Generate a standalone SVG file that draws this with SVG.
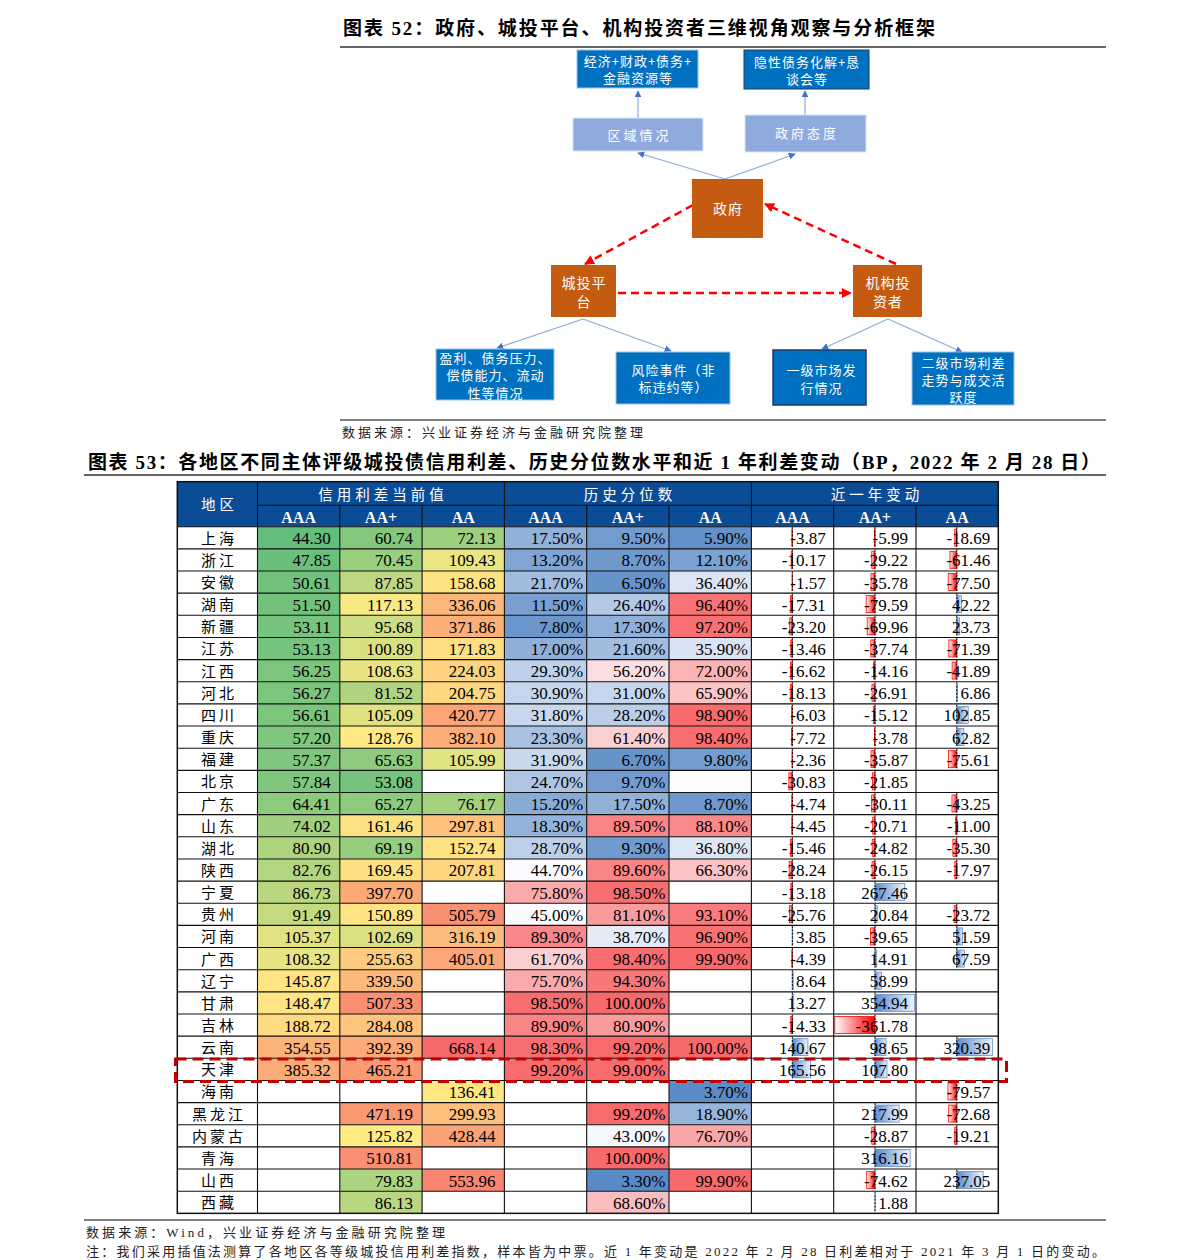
<svg xmlns="http://www.w3.org/2000/svg" width="1191" height="1260" viewBox="0 0 1191 1260">
<style>
.t{font-family:"Liberation Serif","Noto Sans CJK SC",serif;font-weight:bold;font-size:19px;fill:#000}
.src{font-family:"Liberation Serif","Noto Sans CJK SC",serif;font-size:13px;fill:#222}
.w{font-family:"Noto Sans CJK SC",sans-serif;fill:#fff;text-anchor:middle;font-size:13px;letter-spacing:1px}
.ws{font-family:"Noto Sans CJK SC",sans-serif;fill:#fff;text-anchor:middle;font-size:13px;letter-spacing:3px}
.wb{font-family:"Noto Sans CJK SC",sans-serif;fill:#fff;text-anchor:middle;font-size:14px;letter-spacing:1px}
.db{fill:#0070C0}
.lb{fill:#8FAADC}
.or{fill:#C55A11}
.bl{stroke:#8FAADC;stroke-width:1.2;fill:none}
.rd{stroke:#FF0000;stroke-width:2.5;stroke-dasharray:8 5;fill:none}
.n{font-family:"Liberation Serif",serif;font-size:17px;fill:#000;text-anchor:end}
.r{font-family:"Noto Sans CJK SC",sans-serif;font-size:15px;fill:#000;text-anchor:middle;letter-spacing:3px}
.hd{font-family:"Noto Sans CJK SC",sans-serif;font-size:14.5px;fill:#fff;text-anchor:middle;letter-spacing:4px}
.hs{font-family:"Liberation Serif",serif;font-weight:bold;font-size:16px;fill:#fff;text-anchor:middle}
.ax{stroke:#000;stroke-width:1;stroke-dasharray:2 1.5}
.bn{fill:url(#gneg);stroke:#FF0000;stroke-width:0.8}
.bp{fill:url(#gpos);stroke:#638EC6;stroke-width:0.8}
.g{stroke:#111;stroke-width:1.1;fill:none}
</style>
<defs>
<linearGradient id="gneg" x1="0" y1="0" x2="1" y2="0"><stop offset="0" stop-color="#FFFFFF"/><stop offset="1" stop-color="#FF0000"/></linearGradient>
<linearGradient id="gpos" x1="0" y1="0" x2="1" y2="0"><stop offset="0" stop-color="#5B8BCF"/><stop offset="1" stop-color="#EEF3FA"/></linearGradient>
<marker id="ab" viewBox="0 0 10 10" refX="9" refY="5" markerWidth="7" markerHeight="7" markerUnits="userSpaceOnUse" orient="auto"><path d="M0,0 L10,5 L0,10 z" fill="#4472C4"/></marker>
<marker id="ar" viewBox="0 0 10 10" refX="9" refY="5" markerWidth="10" markerHeight="10" markerUnits="userSpaceOnUse" orient="auto"><path d="M0,0 L10,5 L0,10 z" fill="#FF0000"/></marker>
</defs>
<rect width="1191" height="1260" fill="#fff"/>

<!-- Figure 52 -->
<text class="t" x="343" y="35" textLength="592" lengthAdjust="spacing">图表 52：政府、城投平台、机构投资者三维视角观察与分析框架</text>
<line x1="340" y1="47" x2="1106" y2="47" stroke="#333" stroke-width="1.5"/>

<g id="connectors">
<path class="bl" d="M638,118 L638,91" marker-end="url(#ab)"/>
<path class="bl" d="M805,115 L805,91" marker-end="url(#ab)"/>
<path class="bl" d="M725,179 L638,153" marker-end="url(#ab)"/>
<path class="bl" d="M725,179 L795,154" marker-end="url(#ab)"/>
<path class="bl" d="M583,319 L497,348" marker-end="url(#ab)"/>
<path class="bl" d="M583,319 L671,351" marker-end="url(#ab)"/>
<path class="bl" d="M888,319 L822,349" marker-end="url(#ab)"/>
<path class="bl" d="M888,319 L962,352" marker-end="url(#ab)"/>
<path class="rd" d="M693,205 L585,264" marker-end="url(#ar)"/>
<path class="rd" d="M896,264 L765,204" marker-end="url(#ar)"/>
<path class="rd" d="M618,293 L851,293" marker-end="url(#ar)"/>
</g>

<g id="n-econ"><rect class="db" x="577" y="50" width="121" height="38" stroke="#9DC3E6" stroke-width="1"/><text class="w" x="638" y="66">经济+财政+债务+</text><text class="w" x="638" y="83">金融资源等</text></g>
<g id="n-debt"><rect class="db" x="744" y="50" width="125" height="39" stroke="#1F3864" stroke-width="1"/><text class="w" x="807" y="67">隐性债务化解+恳</text><text class="w" x="807" y="84">谈会等</text></g>
<g id="n-region"><rect class="lb" x="573" y="118" width="130" height="33" stroke="#DAE3F3" stroke-width="1"/><text class="ws" x="639.5" y="139.5">区域情况</text></g>
<g id="n-attitude"><rect class="lb" x="745" y="115" width="121" height="37" stroke="#DAE3F3" stroke-width="1"/><text class="ws" x="807" y="138">政府态度</text></g>
<g id="n-gov"><rect class="or" x="692" y="179" width="71" height="59"/><text class="wb" x="728" y="214">政府</text></g>
<g id="n-lgfv"><rect class="or" x="551" y="265" width="65" height="52"/><text class="wb" x="584" y="288">城投平</text><text class="wb" x="584" y="307">台</text></g>
<g id="n-inst"><rect class="or" x="853" y="265" width="69" height="52"/><text class="wb" x="888" y="288">机构投</text><text class="wb" x="888" y="307">资者</text></g>
<g id="n-profit"><rect class="db" x="436" y="349" width="118" height="51" stroke="#9DC3E6" stroke-width="1"/><text class="w" x="495.5" y="362.5">盈利、债务压力、</text><text class="w" x="495.5" y="380">偿债能力、流动</text><text class="w" x="495.5" y="397.5">性等情况</text></g>
<g id="n-risk"><rect class="db" x="616" y="352" width="114" height="52" stroke="#9DC3E6" stroke-width="1"/><text class="w" x="673.5" y="374.5">风险事件（非</text><text class="w" x="673.5" y="391.5">标违约等）</text></g>
<g id="n-primary"><rect class="db" x="773" y="350" width="93" height="55" stroke="#1F3864" stroke-width="1.5"/><text class="w" x="821.5" y="374.5">一级市场发</text><text class="w" x="821.5" y="392.5">行情况</text></g>
<g id="n-secondary"><rect class="db" x="912" y="352" width="102" height="53" stroke="#9DC3E6" stroke-width="1"/><text class="w" x="963.5" y="367.5">二级市场利差</text><text class="w" x="963.5" y="384.5">走势与成交活</text><text class="w" x="963.5" y="401.5">跃度</text></g>

<line x1="340" y1="420" x2="1106" y2="420" stroke="#555" stroke-width="1.5"/>
<text class="src" x="342" y="437" textLength="301" lengthAdjust="spacing">数据来源：兴业证券经济与金融研究院整理</text>

<!-- Figure 53 -->
<text class="t" x="88" y="469" textLength="1012" lengthAdjust="spacing">图表 53：各地区不同主体评级城投债信用利差、历史分位数水平和近 1 年利差变动（BP，2022 年 2 月 28 日）</text>
<line x1="84" y1="475" x2="1106" y2="475" stroke="#333" stroke-width="1.5"/>

<g id="header">
<rect x="177.3" y="481.7" width="821" height="45" fill="#0B4C96"/>
<text class="hd" x="219.4" y="510">地区</text>
<text class="hd" x="383" y="499.5">信用利差当前值</text>
<text class="hd" x="629.9" y="499.5">历史分位数</text>
<text class="hd" x="876.9" y="499.5">近一年变动</text>
<text class="hs" x="298.65" y="522.5">AAA</text><text class="hs" x="380.95" y="522.5">AA+</text><text class="hs" x="463.25" y="522.5">AA</text>
<text class="hs" x="545.55" y="522.5">AAA</text><text class="hs" x="627.85" y="522.5">AA+</text><text class="hs" x="710.2" y="522.5">AA</text>
<text class="hs" x="792.55" y="522.5">AAA</text><text class="hs" x="874.85" y="522.5">AA+</text><text class="hs" x="957.15" y="522.5">AA</text>
<path class="g" d="M257.5,505.2 H998.3 M257.5,481.7 V526.7 M504.4,481.7 V526.7 M751.4,481.7 V526.7 M339.8,505.2 V526.7 M422.1,505.2 V526.7 M586.7,505.2 V526.7 M669,505.2 V526.7 M833.7,505.2 V526.7 M916,505.2 V526.7"/>
</g>

<g id="r01" transform="translate(0,526.7)">
<rect x="257.5" width="82.31" height="22.15" fill="#63BE7B"/><rect x="339.8" width="82.31" height="22.15" fill="#85C87D"/><rect x="422.1" width="82.31" height="22.15" fill="#9CCF7E"/>
<rect x="504.4" width="82.31" height="22.15" fill="#91B1D9"/><rect x="586.7" width="82.31" height="22.15" fill="#729BCE"/><rect x="669" width="82.31" height="22.15" fill="#6491CA"/>
<rect class="bn" x="791.87" y="2.5" width="0.43" height="17"/><rect class="bn" x="874.34" y="2.5" width="0.66" height="17"/><rect class="bn" x="954.73" y="2.5" width="2.07" height="17"/>
<line class="ax" x1="792.3" x2="792.3" y1="0.5" y2="21.65"/><line class="ax" x1="875" x2="875" y1="0.5" y2="21.65"/><line class="ax" x1="956.8" x2="956.8" y1="0.5" y2="21.65"/>
<text class="r" x="218.9" y="17">上海</text>
<text class="n" x="330.8" y="17.5">44.30</text><text class="n" x="413.1" y="17.5">60.74</text><text class="n" x="495.4" y="17.5">72.13</text>
<text class="n" x="583.2" y="17.5">17.50%</text><text class="n" x="665.5" y="17.5">9.50%</text><text class="n" x="747.9" y="17.5">5.90%</text>
<text class="n" x="825.7" y="17.5">-3.87</text><text class="n" x="908" y="17.5">-5.99</text><text class="n" x="990.3" y="17.5">-18.69</text>
</g>

<g id="r02" transform="translate(0,548.85)">
<rect x="257.5" width="82.31" height="22.15" fill="#6AC07B"/><rect x="339.8" width="82.31" height="22.15" fill="#99CE7E"/><rect x="422.1" width="82.31" height="22.15" fill="#E9E583"/>
<rect x="504.4" width="82.31" height="22.15" fill="#80A5D4"/><rect x="586.7" width="82.31" height="22.15" fill="#6F99CD"/><rect x="669" width="82.31" height="22.15" fill="#7CA2D2"/>
<rect class="bn" x="791.17" y="2.5" width="1.13" height="17"/><rect class="bn" x="871.76" y="2.5" width="3.24" height="17"/><rect class="bn" x="949.98" y="2.5" width="6.82" height="17"/>
<line class="ax" x1="792.3" x2="792.3" y1="0.5" y2="21.65"/><line class="ax" x1="875" x2="875" y1="0.5" y2="21.65"/><line class="ax" x1="956.8" x2="956.8" y1="0.5" y2="21.65"/>
<text class="r" x="218.9" y="17">浙江</text>
<text class="n" x="330.8" y="17.5">47.85</text><text class="n" x="413.1" y="17.5">70.45</text><text class="n" x="495.4" y="17.5">109.43</text>
<text class="n" x="583.2" y="17.5">13.20%</text><text class="n" x="665.5" y="17.5">8.70%</text><text class="n" x="747.9" y="17.5">12.10%</text>
<text class="n" x="825.7" y="17.5">-10.17</text><text class="n" x="908" y="17.5">-29.22</text><text class="n" x="990.3" y="17.5">-61.46</text>
</g>

<g id="r03" transform="translate(0,571)">
<rect x="257.5" width="82.31" height="22.15" fill="#70C27C"/><rect x="339.8" width="82.31" height="22.15" fill="#BDD880"/><rect x="422.1" width="82.31" height="22.15" fill="#FFE282"/>
<rect x="504.4" width="82.31" height="22.15" fill="#A1BCDF"/><rect x="586.7" width="82.31" height="22.15" fill="#6693CA"/><rect x="669" width="82.31" height="22.15" fill="#DBE4F3"/>
<rect class="bn" x="792.13" y="2.5" width="0.17" height="17"/><rect class="bn" x="871.03" y="2.5" width="3.97" height="17"/><rect class="bn" x="948.2" y="2.5" width="8.6" height="17"/>
<line class="ax" x1="792.3" x2="792.3" y1="0.5" y2="21.65"/><line class="ax" x1="875" x2="875" y1="0.5" y2="21.65"/><line class="ax" x1="956.8" x2="956.8" y1="0.5" y2="21.65"/>
<text class="r" x="218.9" y="17">安徽</text>
<text class="n" x="330.8" y="17.5">50.61</text><text class="n" x="413.1" y="17.5">87.85</text><text class="n" x="495.4" y="17.5">158.68</text>
<text class="n" x="583.2" y="17.5">21.70%</text><text class="n" x="665.5" y="17.5">6.50%</text><text class="n" x="747.9" y="17.5">36.40%</text>
<text class="n" x="825.7" y="17.5">-1.57</text><text class="n" x="908" y="17.5">-35.78</text><text class="n" x="990.3" y="17.5">-77.50</text>
</g>

<g id="r04" transform="translate(0,593.15)">
<rect x="257.5" width="82.31" height="22.15" fill="#72C27C"/><rect x="339.8" width="82.31" height="22.15" fill="#F9E984"/><rect x="422.1" width="82.31" height="22.15" fill="#FCB87A"/>
<rect x="504.4" width="82.31" height="22.15" fill="#7AA0D1"/><rect x="586.7" width="82.31" height="22.15" fill="#B4C9E6"/><rect x="669" width="82.31" height="22.15" fill="#F87375"/>
<rect class="bn" x="790.38" y="2.5" width="1.92" height="17"/><rect class="bn" x="866.17" y="2.5" width="8.83" height="17"/><rect class="bp" x="956.8" y="2.5" width="4.69" height="17"/>
<line class="ax" x1="792.3" x2="792.3" y1="0.5" y2="21.65"/><line class="ax" x1="875" x2="875" y1="0.5" y2="21.65"/><line class="ax" x1="956.8" x2="956.8" y1="0.5" y2="21.65"/>
<text class="r" x="218.9" y="17">湖南</text>
<text class="n" x="330.8" y="17.5">51.50</text><text class="n" x="413.1" y="17.5">117.13</text><text class="n" x="495.4" y="17.5">336.06</text>
<text class="n" x="583.2" y="17.5">11.50%</text><text class="n" x="665.5" y="17.5">26.40%</text><text class="n" x="747.9" y="17.5">96.40%</text>
<text class="n" x="825.7" y="17.5">-17.31</text><text class="n" x="908" y="17.5">-79.59</text><text class="n" x="990.3" y="17.5">42.22</text>
</g>

<g id="r05" transform="translate(0,615.3)">
<rect x="257.5" width="82.31" height="22.15" fill="#75C37C"/><rect x="339.8" width="82.31" height="22.15" fill="#CDDD81"/><rect x="422.1" width="82.31" height="22.15" fill="#FCAF79"/>
<rect x="504.4" width="82.31" height="22.15" fill="#6B96CC"/><rect x="586.7" width="82.31" height="22.15" fill="#90B0D9"/><rect x="669" width="82.31" height="22.15" fill="#F87072"/>
<rect class="bn" x="789.72" y="2.5" width="2.58" height="17"/><rect class="bn" x="867.23" y="2.5" width="7.77" height="17"/><rect class="bp" x="956.8" y="2.5" width="2.63" height="17"/>
<line class="ax" x1="792.3" x2="792.3" y1="0.5" y2="21.65"/><line class="ax" x1="875" x2="875" y1="0.5" y2="21.65"/><line class="ax" x1="956.8" x2="956.8" y1="0.5" y2="21.65"/>
<text class="r" x="218.9" y="17">新疆</text>
<text class="n" x="330.8" y="17.5">53.11</text><text class="n" x="413.1" y="17.5">95.68</text><text class="n" x="495.4" y="17.5">371.86</text>
<text class="n" x="583.2" y="17.5">7.80%</text><text class="n" x="665.5" y="17.5">17.30%</text><text class="n" x="747.9" y="17.5">97.20%</text>
<text class="n" x="825.7" y="17.5">-23.20</text><text class="n" x="908" y="17.5">-69.96</text><text class="n" x="990.3" y="17.5">23.73</text>
</g>

<g id="r06" transform="translate(0,637.45)">
<rect x="257.5" width="82.31" height="22.15" fill="#75C37C"/><rect x="339.8" width="82.31" height="22.15" fill="#D8E082"/><rect x="422.1" width="82.31" height="22.15" fill="#FEDF82"/>
<rect x="504.4" width="82.31" height="22.15" fill="#8FAFD9"/><rect x="586.7" width="82.31" height="22.15" fill="#A1BCDF"/><rect x="669" width="82.31" height="22.15" fill="#D9E3F3"/>
<rect class="bn" x="790.81" y="2.5" width="1.49" height="17"/><rect class="bn" x="870.81" y="2.5" width="4.19" height="17"/><rect class="bn" x="948.88" y="2.5" width="7.92" height="17"/>
<line class="ax" x1="792.3" x2="792.3" y1="0.5" y2="21.65"/><line class="ax" x1="875" x2="875" y1="0.5" y2="21.65"/><line class="ax" x1="956.8" x2="956.8" y1="0.5" y2="21.65"/>
<text class="r" x="218.9" y="17">江苏</text>
<text class="n" x="330.8" y="17.5">53.13</text><text class="n" x="413.1" y="17.5">100.89</text><text class="n" x="495.4" y="17.5">171.83</text>
<text class="n" x="583.2" y="17.5">17.00%</text><text class="n" x="665.5" y="17.5">21.60%</text><text class="n" x="747.9" y="17.5">35.90%</text>
<text class="n" x="825.7" y="17.5">-13.46</text><text class="n" x="908" y="17.5">-37.74</text><text class="n" x="990.3" y="17.5">-71.39</text>
</g>

<g id="r07" transform="translate(0,659.6)">
<rect x="257.5" width="82.31" height="22.15" fill="#7CC57C"/><rect x="339.8" width="82.31" height="22.15" fill="#E8E483"/><rect x="422.1" width="82.31" height="22.15" fill="#FED27F"/>
<rect x="504.4" width="82.31" height="22.15" fill="#BFD1EA"/><rect x="586.7" width="82.31" height="22.15" fill="#FBDEE1"/><rect x="669" width="82.31" height="22.15" fill="#FAB4B6"/>
<rect class="bn" x="790.46" y="2.5" width="1.84" height="17"/><rect class="bn" x="873.43" y="2.5" width="1.57" height="17"/><rect class="bn" x="952.15" y="2.5" width="4.65" height="17"/>
<line class="ax" x1="792.3" x2="792.3" y1="0.5" y2="21.65"/><line class="ax" x1="875" x2="875" y1="0.5" y2="21.65"/><line class="ax" x1="956.8" x2="956.8" y1="0.5" y2="21.65"/>
<text class="r" x="218.9" y="17">江西</text>
<text class="n" x="330.8" y="17.5">56.25</text><text class="n" x="413.1" y="17.5">108.63</text><text class="n" x="495.4" y="17.5">224.03</text>
<text class="n" x="583.2" y="17.5">29.30%</text><text class="n" x="665.5" y="17.5">56.20%</text><text class="n" x="747.9" y="17.5">72.00%</text>
<text class="n" x="825.7" y="17.5">-16.62</text><text class="n" x="908" y="17.5">-14.16</text><text class="n" x="990.3" y="17.5">-41.89</text>
</g>

<g id="r08" transform="translate(0,681.75)">
<rect x="257.5" width="82.31" height="22.15" fill="#7CC57C"/><rect x="339.8" width="82.31" height="22.15" fill="#B0D47F"/><rect x="422.1" width="82.31" height="22.15" fill="#FED780"/>
<rect x="504.4" width="82.31" height="22.15" fill="#C5D5EC"/><rect x="586.7" width="82.31" height="22.15" fill="#C6D6EC"/><rect x="669" width="82.31" height="22.15" fill="#FAC4C7"/>
<rect class="bn" x="790.29" y="2.5" width="2.01" height="17"/><rect class="bn" x="872.01" y="2.5" width="2.99" height="17"/><rect class="bp" x="956.8" y="2.5" width="0.76" height="17"/>
<line class="ax" x1="792.3" x2="792.3" y1="0.5" y2="21.65"/><line class="ax" x1="875" x2="875" y1="0.5" y2="21.65"/><line class="ax" x1="956.8" x2="956.8" y1="0.5" y2="21.65"/>
<text class="r" x="218.9" y="17">河北</text>
<text class="n" x="330.8" y="17.5">56.27</text><text class="n" x="413.1" y="17.5">81.52</text><text class="n" x="495.4" y="17.5">204.75</text>
<text class="n" x="583.2" y="17.5">30.90%</text><text class="n" x="665.5" y="17.5">31.00%</text><text class="n" x="747.9" y="17.5">65.90%</text>
<text class="n" x="825.7" y="17.5">-18.13</text><text class="n" x="908" y="17.5">-26.91</text><text class="n" x="990.3" y="17.5">6.86</text>
</g>

<g id="r09" transform="translate(0,703.9)">
<rect x="257.5" width="82.31" height="22.15" fill="#7CC57C"/><rect x="339.8" width="82.31" height="22.15" fill="#E0E282"/><rect x="422.1" width="82.31" height="22.15" fill="#FBA476"/>
<rect x="504.4" width="82.31" height="22.15" fill="#C9D8ED"/><rect x="586.7" width="82.31" height="22.15" fill="#BBCEE8"/><rect x="669" width="82.31" height="22.15" fill="#F86C6E"/>
<rect class="bn" x="791.63" y="2.5" width="0.67" height="17"/><rect class="bn" x="873.32" y="2.5" width="1.68" height="17"/><rect class="bp" x="956.8" y="2.5" width="11.42" height="17"/>
<line class="ax" x1="792.3" x2="792.3" y1="0.5" y2="21.65"/><line class="ax" x1="875" x2="875" y1="0.5" y2="21.65"/><line class="ax" x1="956.8" x2="956.8" y1="0.5" y2="21.65"/>
<text class="r" x="218.9" y="17">四川</text>
<text class="n" x="330.8" y="17.5">56.61</text><text class="n" x="413.1" y="17.5">105.09</text><text class="n" x="495.4" y="17.5">420.77</text>
<text class="n" x="583.2" y="17.5">31.80%</text><text class="n" x="665.5" y="17.5">28.20%</text><text class="n" x="747.9" y="17.5">98.90%</text>
<text class="n" x="825.7" y="17.5">-6.03</text><text class="n" x="908" y="17.5">-15.12</text><text class="n" x="990.3" y="17.5">102.85</text>
</g>

<g id="r10" transform="translate(0,726.05)">
<rect x="257.5" width="82.31" height="22.15" fill="#7EC67D"/><rect x="339.8" width="82.31" height="22.15" fill="#FFE984"/><rect x="422.1" width="82.31" height="22.15" fill="#FCAD78"/>
<rect x="504.4" width="82.31" height="22.15" fill="#A8C1E1"/><rect x="586.7" width="82.31" height="22.15" fill="#FBD0D3"/><rect x="669" width="82.31" height="22.15" fill="#F86D6F"/>
<rect class="bn" x="791.44" y="2.5" width="0.86" height="17"/><rect class="bn" x="874.58" y="2.5" width="0.42" height="17"/><rect class="bp" x="956.8" y="2.5" width="6.97" height="17"/>
<line class="ax" x1="792.3" x2="792.3" y1="0.5" y2="21.65"/><line class="ax" x1="875" x2="875" y1="0.5" y2="21.65"/><line class="ax" x1="956.8" x2="956.8" y1="0.5" y2="21.65"/>
<text class="r" x="218.9" y="17">重庆</text>
<text class="n" x="330.8" y="17.5">57.20</text><text class="n" x="413.1" y="17.5">128.76</text><text class="n" x="495.4" y="17.5">382.10</text>
<text class="n" x="583.2" y="17.5">23.30%</text><text class="n" x="665.5" y="17.5">61.40%</text><text class="n" x="747.9" y="17.5">98.40%</text>
<text class="n" x="825.7" y="17.5">-7.72</text><text class="n" x="908" y="17.5">-3.78</text><text class="n" x="990.3" y="17.5">62.82</text>
</g>

<g id="r11" transform="translate(0,748.2)">
<rect x="257.5" width="82.31" height="22.15" fill="#7EC67D"/><rect x="339.8" width="82.31" height="22.15" fill="#8FCB7E"/><rect x="422.1" width="82.31" height="22.15" fill="#E2E382"/>
<rect x="504.4" width="82.31" height="22.15" fill="#C9D8ED"/><rect x="586.7" width="82.31" height="22.15" fill="#6793CB"/><rect x="669" width="82.31" height="22.15" fill="#739CCF"/>
<rect class="bn" x="792.04" y="2.5" width="0.26" height="17"/><rect class="bn" x="871.02" y="2.5" width="3.98" height="17"/><rect class="bn" x="948.41" y="2.5" width="8.39" height="17"/>
<line class="ax" x1="792.3" x2="792.3" y1="0.5" y2="21.65"/><line class="ax" x1="875" x2="875" y1="0.5" y2="21.65"/><line class="ax" x1="956.8" x2="956.8" y1="0.5" y2="21.65"/>
<text class="r" x="218.9" y="17">福建</text>
<text class="n" x="330.8" y="17.5">57.37</text><text class="n" x="413.1" y="17.5">65.63</text><text class="n" x="495.4" y="17.5">105.99</text>
<text class="n" x="583.2" y="17.5">31.90%</text><text class="n" x="665.5" y="17.5">6.70%</text><text class="n" x="747.9" y="17.5">9.80%</text>
<text class="n" x="825.7" y="17.5">-2.36</text><text class="n" x="908" y="17.5">-35.87</text><text class="n" x="990.3" y="17.5">-75.61</text>
</g>

<g id="r12" transform="translate(0,770.35)">
<rect x="257.5" width="82.31" height="22.15" fill="#7FC67D"/><rect x="339.8" width="82.31" height="22.15" fill="#75C37C"/>
<rect x="504.4" width="82.31" height="22.15" fill="#ADC5E3"/><rect x="586.7" width="82.31" height="22.15" fill="#739BCF"/>
<rect class="bn" x="788.88" y="2.5" width="3.42" height="17"/><rect class="bn" x="872.57" y="2.5" width="2.43" height="17"/>
<line class="ax" x1="792.3" x2="792.3" y1="0.5" y2="21.65"/><line class="ax" x1="875" x2="875" y1="0.5" y2="21.65"/>
<text class="r" x="218.9" y="17">北京</text>
<text class="n" x="330.8" y="17.5">57.84</text><text class="n" x="413.1" y="17.5">53.08</text>
<text class="n" x="583.2" y="17.5">24.70%</text><text class="n" x="665.5" y="17.5">9.70%</text>
<text class="n" x="825.7" y="17.5">-30.83</text><text class="n" x="908" y="17.5">-21.85</text>
</g>

<g id="r13" transform="translate(0,792.5)">
<rect x="257.5" width="82.31" height="22.15" fill="#8CCA7D"/><rect x="339.8" width="82.31" height="22.15" fill="#8ECA7D"/><rect x="422.1" width="82.31" height="22.15" fill="#A5D17F"/>
<rect x="504.4" width="82.31" height="22.15" fill="#88ABD6"/><rect x="586.7" width="82.31" height="22.15" fill="#91B1D9"/><rect x="669" width="82.31" height="22.15" fill="#6F99CD"/>
<rect class="bn" x="791.77" y="2.5" width="0.53" height="17"/><rect class="bn" x="871.66" y="2.5" width="3.34" height="17"/><rect class="bn" x="952" y="2.5" width="4.8" height="17"/>
<line class="ax" x1="792.3" x2="792.3" y1="0.5" y2="21.65"/><line class="ax" x1="875" x2="875" y1="0.5" y2="21.65"/><line class="ax" x1="956.8" x2="956.8" y1="0.5" y2="21.65"/>
<text class="r" x="218.9" y="17">广东</text>
<text class="n" x="330.8" y="17.5">64.41</text><text class="n" x="413.1" y="17.5">65.27</text><text class="n" x="495.4" y="17.5">76.17</text>
<text class="n" x="583.2" y="17.5">15.20%</text><text class="n" x="665.5" y="17.5">17.50%</text><text class="n" x="747.9" y="17.5">8.70%</text>
<text class="n" x="825.7" y="17.5">-4.74</text><text class="n" x="908" y="17.5">-30.11</text><text class="n" x="990.3" y="17.5">-43.25</text>
</g>

<g id="r14" transform="translate(0,814.65)">
<rect x="257.5" width="82.31" height="22.15" fill="#A0D07F"/><rect x="339.8" width="82.31" height="22.15" fill="#FEE182"/><rect x="422.1" width="82.31" height="22.15" fill="#FDC17C"/>
<rect x="504.4" width="82.31" height="22.15" fill="#94B3DA"/><rect x="586.7" width="82.31" height="22.15" fill="#F98587"/><rect x="669" width="82.31" height="22.15" fill="#F9898B"/>
<rect class="bn" x="791.81" y="2.5" width="0.49" height="17"/><rect class="bn" x="872.7" y="2.5" width="2.3" height="17"/><rect class="bn" x="955.58" y="2.5" width="1.22" height="17"/>
<line class="ax" x1="792.3" x2="792.3" y1="0.5" y2="21.65"/><line class="ax" x1="875" x2="875" y1="0.5" y2="21.65"/><line class="ax" x1="956.8" x2="956.8" y1="0.5" y2="21.65"/>
<text class="r" x="218.9" y="17">山东</text>
<text class="n" x="330.8" y="17.5">74.02</text><text class="n" x="413.1" y="17.5">161.46</text><text class="n" x="495.4" y="17.5">297.81</text>
<text class="n" x="583.2" y="17.5">18.30%</text><text class="n" x="665.5" y="17.5">89.50%</text><text class="n" x="747.9" y="17.5">88.10%</text>
<text class="n" x="825.7" y="17.5">-4.45</text><text class="n" x="908" y="17.5">-20.71</text><text class="n" x="990.3" y="17.5">-11.00</text>
</g>

<g id="r15" transform="translate(0,836.8)">
<rect x="257.5" width="82.31" height="22.15" fill="#AED47F"/><rect x="339.8" width="82.31" height="22.15" fill="#96CD7E"/><rect x="422.1" width="82.31" height="22.15" fill="#FFE383"/>
<rect x="504.4" width="82.31" height="22.15" fill="#BDCFE9"/><rect x="586.7" width="82.31" height="22.15" fill="#719ACE"/><rect x="669" width="82.31" height="22.15" fill="#DCE6F4"/>
<rect class="bn" x="790.58" y="2.5" width="1.72" height="17"/><rect class="bn" x="872.24" y="2.5" width="2.76" height="17"/><rect class="bn" x="952.88" y="2.5" width="3.92" height="17"/>
<line class="ax" x1="792.3" x2="792.3" y1="0.5" y2="21.65"/><line class="ax" x1="875" x2="875" y1="0.5" y2="21.65"/><line class="ax" x1="956.8" x2="956.8" y1="0.5" y2="21.65"/>
<text class="r" x="218.9" y="17">湖北</text>
<text class="n" x="330.8" y="17.5">80.90</text><text class="n" x="413.1" y="17.5">69.19</text><text class="n" x="495.4" y="17.5">152.74</text>
<text class="n" x="583.2" y="17.5">28.70%</text><text class="n" x="665.5" y="17.5">9.30%</text><text class="n" x="747.9" y="17.5">36.80%</text>
<text class="n" x="825.7" y="17.5">-15.46</text><text class="n" x="908" y="17.5">-24.82</text><text class="n" x="990.3" y="17.5">-35.30</text>
</g>

<g id="r16" transform="translate(0,858.95)">
<rect x="257.5" width="82.31" height="22.15" fill="#B2D580"/><rect x="339.8" width="82.31" height="22.15" fill="#FEDF82"/><rect x="422.1" width="82.31" height="22.15" fill="#FED680"/>
<rect x="504.4" width="82.31" height="22.15" fill="#FBFBFF"/><rect x="586.7" width="82.31" height="22.15" fill="#F98587"/><rect x="669" width="82.31" height="22.15" fill="#FAC3C6"/>
<rect class="bn" x="789.17" y="2.5" width="3.13" height="17"/><rect class="bn" x="872.1" y="2.5" width="2.9" height="17"/><rect class="bn" x="954.81" y="2.5" width="1.99" height="17"/>
<line class="ax" x1="792.3" x2="792.3" y1="0.5" y2="21.65"/><line class="ax" x1="875" x2="875" y1="0.5" y2="21.65"/><line class="ax" x1="956.8" x2="956.8" y1="0.5" y2="21.65"/>
<text class="r" x="218.9" y="17">陕西</text>
<text class="n" x="330.8" y="17.5">82.76</text><text class="n" x="413.1" y="17.5">169.45</text><text class="n" x="495.4" y="17.5">207.81</text>
<text class="n" x="583.2" y="17.5">44.70%</text><text class="n" x="665.5" y="17.5">89.60%</text><text class="n" x="747.9" y="17.5">66.30%</text>
<text class="n" x="825.7" y="17.5">-28.24</text><text class="n" x="908" y="17.5">-26.15</text><text class="n" x="990.3" y="17.5">-17.97</text>
</g>

<g id="r17" transform="translate(0,881.1)">
<rect x="257.5" width="82.31" height="22.15" fill="#BAD780"/><rect x="339.8" width="82.31" height="22.15" fill="#FBA977"/>
<rect x="504.4" width="82.31" height="22.15" fill="#FAAAAC"/><rect x="586.7" width="82.31" height="22.15" fill="#F86D6F"/>
<rect class="bn" x="790.84" y="2.5" width="1.46" height="17"/><rect class="bp" x="875" y="2.5" width="29.69" height="17"/>
<line class="ax" x1="792.3" x2="792.3" y1="0.5" y2="21.65"/><line class="ax" x1="875" x2="875" y1="0.5" y2="21.65"/>
<text class="r" x="218.9" y="17">宁夏</text>
<text class="n" x="330.8" y="17.5">86.73</text><text class="n" x="413.1" y="17.5">397.70</text>
<text class="n" x="583.2" y="17.5">75.80%</text><text class="n" x="665.5" y="17.5">98.50%</text>
<text class="n" x="825.7" y="17.5">-13.18</text><text class="n" x="908" y="17.5">267.46</text>
</g>

<g id="r18" transform="translate(0,903.25)">
<rect x="257.5" width="82.31" height="22.15" fill="#C4DA81"/><rect x="339.8" width="82.31" height="22.15" fill="#FFE483"/><rect x="422.1" width="82.31" height="22.15" fill="#FA8F72"/>
<rect x="504.4" width="82.31" height="22.15" fill="#FCFCFF"/><rect x="586.7" width="82.31" height="22.15" fill="#F99C9E"/><rect x="669" width="82.31" height="22.15" fill="#F97B7E"/>
<rect class="bn" x="789.44" y="2.5" width="2.86" height="17"/><rect class="bp" x="875" y="2.5" width="2.31" height="17"/><rect class="bn" x="954.17" y="2.5" width="2.63" height="17"/>
<line class="ax" x1="792.3" x2="792.3" y1="0.5" y2="21.65"/><line class="ax" x1="875" x2="875" y1="0.5" y2="21.65"/><line class="ax" x1="956.8" x2="956.8" y1="0.5" y2="21.65"/>
<text class="r" x="218.9" y="17">贵州</text>
<text class="n" x="330.8" y="17.5">91.49</text><text class="n" x="413.1" y="17.5">150.89</text><text class="n" x="495.4" y="17.5">505.79</text>
<text class="n" x="583.2" y="17.5">45.00%</text><text class="n" x="665.5" y="17.5">81.10%</text><text class="n" x="747.9" y="17.5">93.10%</text>
<text class="n" x="825.7" y="17.5">-25.76</text><text class="n" x="908" y="17.5">20.84</text><text class="n" x="990.3" y="17.5">-23.72</text>
</g>

<g id="r19" transform="translate(0,925.4)">
<rect x="257.5" width="82.31" height="22.15" fill="#E1E282"/><rect x="339.8" width="82.31" height="22.15" fill="#DBE182"/><rect x="422.1" width="82.31" height="22.15" fill="#FCBC7B"/>
<rect x="504.4" width="82.31" height="22.15" fill="#F98688"/><rect x="586.7" width="82.31" height="22.15" fill="#E4EBF6"/><rect x="669" width="82.31" height="22.15" fill="#F87173"/>
<rect class="bp" x="792.3" y="2.5" width="0.43" height="17"/><rect class="bn" x="870.6" y="2.5" width="4.4" height="17"/><rect class="bp" x="956.8" y="2.5" width="5.73" height="17"/>
<line class="ax" x1="792.3" x2="792.3" y1="0.5" y2="21.65"/><line class="ax" x1="875" x2="875" y1="0.5" y2="21.65"/><line class="ax" x1="956.8" x2="956.8" y1="0.5" y2="21.65"/>
<text class="r" x="218.9" y="17">河南</text>
<text class="n" x="330.8" y="17.5">105.37</text><text class="n" x="413.1" y="17.5">102.69</text><text class="n" x="495.4" y="17.5">316.19</text>
<text class="n" x="583.2" y="17.5">89.30%</text><text class="n" x="665.5" y="17.5">38.70%</text><text class="n" x="747.9" y="17.5">96.90%</text>
<text class="n" x="825.7" y="17.5">3.85</text><text class="n" x="908" y="17.5">-39.65</text><text class="n" x="990.3" y="17.5">51.59</text>
</g>

<g id="r20" transform="translate(0,947.55)">
<rect x="257.5" width="82.31" height="22.15" fill="#E7E483"/><rect x="339.8" width="82.31" height="22.15" fill="#FDCB7E"/><rect x="422.1" width="82.31" height="22.15" fill="#FBA777"/>
<rect x="504.4" width="82.31" height="22.15" fill="#FBCFD2"/><rect x="586.7" width="82.31" height="22.15" fill="#F86D6F"/><rect x="669" width="82.31" height="22.15" fill="#F8696B"/>
<rect class="bn" x="791.81" y="2.5" width="0.49" height="17"/><rect class="bp" x="875" y="2.5" width="1.66" height="17"/><rect class="bp" x="956.8" y="2.5" width="7.5" height="17"/>
<line class="ax" x1="792.3" x2="792.3" y1="0.5" y2="21.65"/><line class="ax" x1="875" x2="875" y1="0.5" y2="21.65"/><line class="ax" x1="956.8" x2="956.8" y1="0.5" y2="21.65"/>
<text class="r" x="218.9" y="17">广西</text>
<text class="n" x="330.8" y="17.5">108.32</text><text class="n" x="413.1" y="17.5">255.63</text><text class="n" x="495.4" y="17.5">405.01</text>
<text class="n" x="583.2" y="17.5">61.70%</text><text class="n" x="665.5" y="17.5">98.40%</text><text class="n" x="747.9" y="17.5">99.90%</text>
<text class="n" x="825.7" y="17.5">-4.39</text><text class="n" x="908" y="17.5">14.91</text><text class="n" x="990.3" y="17.5">67.59</text>
</g>

<g id="r21" transform="translate(0,969.7)">
<rect x="257.5" width="82.31" height="22.15" fill="#FFE583"/><rect x="339.8" width="82.31" height="22.15" fill="#FCB77A"/>
<rect x="504.4" width="82.31" height="22.15" fill="#FAAAAC"/><rect x="586.7" width="82.31" height="22.15" fill="#F8787A"/>
<rect class="bp" x="792.3" y="2.5" width="0.96" height="17"/><rect class="bp" x="875" y="2.5" width="6.55" height="17"/>
<line class="ax" x1="792.3" x2="792.3" y1="0.5" y2="21.65"/><line class="ax" x1="875" x2="875" y1="0.5" y2="21.65"/>
<text class="r" x="218.9" y="17">辽宁</text>
<text class="n" x="330.8" y="17.5">145.87</text><text class="n" x="413.1" y="17.5">339.50</text>
<text class="n" x="583.2" y="17.5">75.70%</text><text class="n" x="665.5" y="17.5">94.30%</text>
<text class="n" x="825.7" y="17.5">8.64</text><text class="n" x="908" y="17.5">58.99</text>
</g>

<g id="r22" transform="translate(0,991.85)">
<rect x="257.5" width="82.31" height="22.15" fill="#FFE483"/><rect x="339.8" width="82.31" height="22.15" fill="#FA8F72"/>
<rect x="504.4" width="82.31" height="22.15" fill="#F86D6F"/><rect x="586.7" width="82.31" height="22.15" fill="#F8696B"/>
<rect class="bp" x="792.3" y="2.5" width="1.47" height="17"/><rect class="bp" x="875" y="2.5" width="39.4" height="17"/>
<line class="ax" x1="792.3" x2="792.3" y1="0.5" y2="21.65"/><line class="ax" x1="875" x2="875" y1="0.5" y2="21.65"/>
<text class="r" x="218.9" y="17">甘肃</text>
<text class="n" x="330.8" y="17.5">148.47</text><text class="n" x="413.1" y="17.5">507.33</text>
<text class="n" x="583.2" y="17.5">98.50%</text><text class="n" x="665.5" y="17.5">100.00%</text>
<text class="n" x="825.7" y="17.5">13.27</text><text class="n" x="908" y="17.5">354.94</text>
</g>

<g id="r23" transform="translate(0,1014)">
<rect x="257.5" width="82.31" height="22.15" fill="#FEDB81"/><rect x="339.8" width="82.31" height="22.15" fill="#FDC47D"/>
<rect x="504.4" width="82.31" height="22.15" fill="#F98486"/><rect x="586.7" width="82.31" height="22.15" fill="#F99C9E"/>
<rect class="bn" x="790.71" y="2.5" width="1.59" height="17"/><rect class="bn" x="834.84" y="2.5" width="40.16" height="17"/>
<line class="ax" x1="792.3" x2="792.3" y1="0.5" y2="21.65"/><line class="ax" x1="875" x2="875" y1="0.5" y2="21.65"/>
<text class="r" x="218.9" y="17">吉林</text>
<text class="n" x="330.8" y="17.5">188.72</text><text class="n" x="413.1" y="17.5">284.08</text>
<text class="n" x="583.2" y="17.5">89.90%</text><text class="n" x="665.5" y="17.5">80.90%</text>
<text class="n" x="825.7" y="17.5">-14.33</text><text class="n" x="908" y="17.5">-361.78</text>
</g>

<g id="r24" transform="translate(0,1036.15)">
<rect x="257.5" width="82.31" height="22.15" fill="#FCB379"/><rect x="339.8" width="82.31" height="22.15" fill="#FCAA78"/><rect x="422.1" width="82.31" height="22.15" fill="#F8696B"/>
<rect x="504.4" width="82.31" height="22.15" fill="#F86E70"/><rect x="586.7" width="82.31" height="22.15" fill="#F86B6D"/><rect x="669" width="82.31" height="22.15" fill="#F8696B"/>
<rect class="bp" x="792.3" y="2.5" width="15.61" height="17"/><rect class="bp" x="875" y="2.5" width="10.95" height="17"/><rect class="bp" x="956.8" y="2.5" width="35.56" height="17"/>
<line class="ax" x1="792.3" x2="792.3" y1="0.5" y2="21.65"/><line class="ax" x1="875" x2="875" y1="0.5" y2="21.65"/><line class="ax" x1="956.8" x2="956.8" y1="0.5" y2="21.65"/>
<text class="r" x="218.9" y="17">云南</text>
<text class="n" x="330.8" y="17.5">354.55</text><text class="n" x="413.1" y="17.5">392.39</text><text class="n" x="495.4" y="17.5">668.14</text>
<text class="n" x="583.2" y="17.5">98.30%</text><text class="n" x="665.5" y="17.5">99.20%</text><text class="n" x="747.9" y="17.5">100.00%</text>
<text class="n" x="825.7" y="17.5">140.67</text><text class="n" x="908" y="17.5">98.65</text><text class="n" x="990.3" y="17.5">320.39</text>
</g>

<g id="r25" transform="translate(0,1058.3)">
<rect x="257.5" width="82.31" height="22.15" fill="#FCAC78"/><rect x="339.8" width="82.31" height="22.15" fill="#FB9974"/>
<rect x="504.4" width="82.31" height="22.15" fill="#F86B6D"/><rect x="586.7" width="82.31" height="22.15" fill="#F86C6E"/>
<rect class="bp" x="792.3" y="2.5" width="18.38" height="17"/><rect class="bp" x="875" y="2.5" width="11.97" height="17"/>
<line class="ax" x1="792.3" x2="792.3" y1="0.5" y2="21.65"/><line class="ax" x1="875" x2="875" y1="0.5" y2="21.65"/>
<text class="r" x="218.9" y="17">天津</text>
<text class="n" x="330.8" y="17.5">385.32</text><text class="n" x="413.1" y="17.5">465.21</text>
<text class="n" x="583.2" y="17.5">99.20%</text><text class="n" x="665.5" y="17.5">99.00%</text>
<text class="n" x="825.7" y="17.5">165.56</text><text class="n" x="908" y="17.5">107.80</text>
</g>

<g id="r26" transform="translate(0,1080.45)">
<rect x="422.1" width="82.31" height="22.15" fill="#FFE783"/>
<rect x="669" width="82.31" height="22.15" fill="#5C8BC7"/>
<rect class="bn" x="947.97" y="2.5" width="8.83" height="17"/>
<line class="ax" x1="956.8" x2="956.8" y1="0.5" y2="21.65"/>
<text class="r" x="218.9" y="17">海南</text>
<text class="n" x="495.4" y="17.5">136.41</text>
<text class="n" x="747.9" y="17.5">3.70%</text>
<text class="n" x="990.3" y="17.5">-79.57</text>
</g>

<g id="r27" transform="translate(0,1102.6)">
<rect x="339.8" width="82.31" height="22.15" fill="#FB9874"/><rect x="422.1" width="82.31" height="22.15" fill="#FDC07C"/>
<rect x="586.7" width="82.31" height="22.15" fill="#F86B6D"/><rect x="669" width="82.31" height="22.15" fill="#97B5DB"/>
<rect class="bp" x="875" y="2.5" width="24.2" height="17"/><rect class="bn" x="948.73" y="2.5" width="8.07" height="17"/>
<line class="ax" x1="875" x2="875" y1="0.5" y2="21.65"/><line class="ax" x1="956.8" x2="956.8" y1="0.5" y2="21.65"/>
<text class="r" x="218.9" y="17">黑龙江</text>
<text class="n" x="413.1" y="17.5">471.19</text><text class="n" x="495.4" y="17.5">299.93</text>
<text class="n" x="665.5" y="17.5">99.20%</text><text class="n" x="747.9" y="17.5">18.90%</text>
<text class="n" x="908" y="17.5">217.99</text><text class="n" x="990.3" y="17.5">-72.68</text>
</g>

<g id="r28" transform="translate(0,1124.75)">
<rect x="339.8" width="82.31" height="22.15" fill="#FFEA84"/><rect x="422.1" width="82.31" height="22.15" fill="#FBA276"/>
<rect x="586.7" width="82.31" height="22.15" fill="#F4F7FC"/><rect x="669" width="82.31" height="22.15" fill="#FAA7AA"/>
<rect class="bn" x="871.8" y="2.5" width="3.2" height="17"/><rect class="bn" x="954.67" y="2.5" width="2.13" height="17"/>
<line class="ax" x1="875" x2="875" y1="0.5" y2="21.65"/><line class="ax" x1="956.8" x2="956.8" y1="0.5" y2="21.65"/>
<text class="r" x="218.9" y="17">内蒙古</text>
<text class="n" x="413.1" y="17.5">125.82</text><text class="n" x="495.4" y="17.5">428.44</text>
<text class="n" x="665.5" y="17.5">43.00%</text><text class="n" x="747.9" y="17.5">76.70%</text>
<text class="n" x="908" y="17.5">-28.87</text><text class="n" x="990.3" y="17.5">-19.21</text>
</g>

<g id="r29" transform="translate(0,1146.9)">
<rect x="339.8" width="82.31" height="22.15" fill="#FA8E72"/>
<rect x="586.7" width="82.31" height="22.15" fill="#F8696B"/>
<rect class="bp" x="875" y="2.5" width="35.09" height="17"/>
<line class="ax" x1="875" x2="875" y1="0.5" y2="21.65"/>
<text class="r" x="218.9" y="17">青海</text>
<text class="n" x="413.1" y="17.5">510.81</text>
<text class="n" x="665.5" y="17.5">100.00%</text>
<text class="n" x="908" y="17.5">316.16</text>
</g>

<g id="r30" transform="translate(0,1169.05)">
<rect x="339.8" width="82.31" height="22.15" fill="#ACD37F"/><rect x="422.1" width="82.31" height="22.15" fill="#F98470"/>
<rect x="586.7" width="82.31" height="22.15" fill="#5A8AC6"/><rect x="669" width="82.31" height="22.15" fill="#F8696B"/>
<rect class="bn" x="866.72" y="2.5" width="8.28" height="17"/><rect class="bp" x="956.8" y="2.5" width="26.31" height="17"/>
<line class="ax" x1="875" x2="875" y1="0.5" y2="21.65"/><line class="ax" x1="956.8" x2="956.8" y1="0.5" y2="21.65"/>
<text class="r" x="218.9" y="17">山西</text>
<text class="n" x="413.1" y="17.5">79.83</text><text class="n" x="495.4" y="17.5">553.96</text>
<text class="n" x="665.5" y="17.5">3.30%</text><text class="n" x="747.9" y="17.5">99.90%</text>
<text class="n" x="908" y="17.5">-74.62</text><text class="n" x="990.3" y="17.5">237.05</text>
</g>

<g id="r31" transform="translate(0,1191.2)">
<rect x="339.8" width="82.31" height="22.15" fill="#B9D780"/>
<rect x="586.7" width="82.31" height="22.15" fill="#FABDBF"/>
<rect class="bp" x="875" y="2.5" width="0.21" height="17"/>
<line class="ax" x1="875" x2="875" y1="0.5" y2="21.65"/>
<text class="r" x="218.9" y="17">西藏</text>
<text class="n" x="413.1" y="17.5">86.13</text>
<text class="n" x="665.5" y="17.5">68.60%</text>
<text class="n" x="908" y="17.5">1.88</text>
</g>

<g id="grid">
<path class="g" d="M177.3,526.7 H998.3 M177.3,548.85 H998.3 M177.3,571 H998.3 M177.3,593.15 H998.3 M177.3,615.3 H998.3 M177.3,637.45 H998.3 M177.3,659.6 H998.3 M177.3,681.75 H998.3 M177.3,703.9 H998.3 M177.3,726.05 H998.3 M177.3,748.2 H998.3 M177.3,770.35 H998.3 M177.3,792.5 H998.3 M177.3,814.65 H998.3 M177.3,836.8 H998.3 M177.3,858.95 H998.3 M177.3,881.1 H998.3 M177.3,903.25 H998.3 M177.3,925.4 H998.3 M177.3,947.55 H998.3 M177.3,969.7 H998.3 M177.3,991.85 H998.3 M177.3,1014 H998.3 M177.3,1036.15 H998.3 M177.3,1058.3 H998.3 M177.3,1080.45 H998.3 M177.3,1102.6 H998.3 M177.3,1124.75 H998.3 M177.3,1146.9 H998.3 M177.3,1169.05 H998.3 M177.3,1191.2 H998.3"/>
<path class="g" d="M257.5,526.7 V1213.35 M339.8,526.7 V1213.35 M422.1,526.7 V1213.35 M504.4,526.7 V1213.35 M586.7,526.7 V1213.35 M669,526.7 V1213.35 M751.4,526.7 V1213.35 M833.7,526.7 V1213.35 M916,526.7 V1213.35"/>
<rect x="177.3" y="481.7" width="821" height="731.65" fill="none" stroke="#111" stroke-width="1.5"/>
</g>

<rect id="highlight" x="175.5" y="1059" width="831" height="22.5" fill="none" stroke="#C00000" stroke-width="3" stroke-dasharray="11 6"/>

<line x1="84" y1="1220" x2="1106" y2="1220" stroke="#555" stroke-width="1.5"/>
<text class="src" x="86" y="1237" textLength="359" lengthAdjust="spacing">数据来源：Wind，兴业证券经济与金融研究院整理</text>
<text class="src" x="86" y="1256" textLength="1019" lengthAdjust="spacing">注：我们采用插值法测算了各地区各等级城投信用利差指数，样本皆为中票。近 1 年变动是 2022 年 2 月 28 日利差相对于 2021 年 3 月 1 日的变动。</text>
</svg>
